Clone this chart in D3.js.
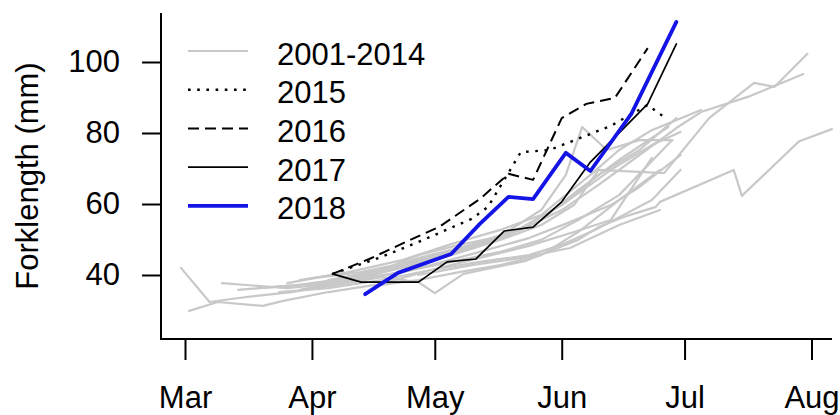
<!DOCTYPE html>
<html>
<head>
<meta charset="utf-8">
<script src="https://cdn.jsdelivr.net/npm/d3@7"></script>
<style>
  html, body { margin: 0; padding: 0; background: #fff; }
  svg { display: block; }
  text { font-family: "Liberation Sans", Arial, sans-serif; fill: #000; }
</style>
</head>
<body>
<svg id="chart" width="840" height="415"></svg>
<script>
// Fork length of juvenile fish by sampling date (month-day), one series per year.
const monthLabels = ["Mar", "Apr", "May", "Jun", "Jul", "Aug"];
const yTicks = [40, 60, 80, 100];
const legendLabels = ["2001-2014", "2015", "2016", "2017", "2018"];

// Earlier years, 2001-2014
const years2001to2014 = [
  [["02-28",42.0],["03-07",32.4],["03-16",33.8],["03-27",35.2],["04-07",37.2],["04-18",39.4],["04-27",38.0],["05-01",34.9],["05-08",40.3],["05-23",43.9],["06-05",49.9],["06-10",53.5],["06-16",56.3],["06-24",59.2],["06-25",60.6],["07-13",69.6],["07-15",62.3],["07-29",77.7],["08-06",81.1]],
  [["03-02",29.9],["03-09",32.4],["03-20",31.3],["03-25",32.7],["04-05",35.2],["04-18",37.5],["04-30",41.4],["05-12",44.8],["05-24",48.2],["06-04",52.1],["06-13",55.5],["06-23",73.0]],
  [["03-10",37.7],["03-26",36.3],["04-05",37.5],["04-18",39.7],["04-30",42.8],["05-12",46.5],["05-24",50.4],["06-03",54.9],["06-13",59.7],["06-20",64.8],["06-30",73.8]],
  [["03-26",37.7],["04-02",39.2],["04-13",40.8],["04-25",43.7],["05-06",47.0],["05-17",51.0],["05-27",58.3],["06-02",68.2],["06-06",81.7],["06-12",75.2],["06-20",78.0],["06-28",78.0]],
  [["03-29",35.8],["04-10",38.6],["04-23",42.0],["05-05",45.6],["05-17",49.9],["05-27",54.1],["06-04",59.7],["06-10",69.6],["06-26",68.7],["07-07",84.2],["07-18",94.1],["07-23",93.0],["07-31",102.3]],
  [["04-03",36.9],["04-15",39.7],["04-27",43.7],["05-10",47.6],["05-22",52.7],["06-01",58.3],["06-10",65.4],["06-20",73.8],["06-29",81.4],["07-05",85.9],["07-17",90.4],["07-30",96.6]],
  [["03-14",35.8],["03-29",37.2],["04-10",39.2],["04-23",42.8],["05-05",46.5],["05-17",50.4],["05-27",55.5],["06-05",63.9],["06-15",72.4],["06-27",81.7]],
  [["03-19",36.3],["04-03",37.7],["04-15",40.0],["04-27",44.8],["05-10",48.5],["05-22",53.2],["06-01",59.7],["06-10",68.2],["06-20",75.2],["06-29",84.2]],
  [["03-29",38.6],["04-10",40.8],["04-23",44.2],["05-05",48.7],["05-17",52.7],["05-27",56.9],["06-08",68.2],["06-15",75.2],["06-23",80.8],["07-05",86.5]],
  [["04-10",38.6],["04-23",40.8],["05-05",43.7],["05-17",46.5],["05-27",49.9],["06-05",55.5],["06-15",62.5],["06-28",78.0]],
  [["03-24",35.2],["04-05",36.3],["04-18",38.6],["04-30",41.4],["05-12",43.7],["05-24",45.6],["06-01",48.5],["06-10",53.2],["06-23",61.1],["06-30",69.6]],
  [["04-18",37.2],["04-27",38.6],["05-07",40.8],["05-17",42.8],["05-27",45.6],["06-05",52.1],["06-15",61.1],["06-25",69.6]],
  [["04-05",38.6],["04-18",41.4],["04-27",45.6],["05-07",48.5],["05-19",51.3],["06-01",59.7],["06-13",69.6],["06-23",76.6],["06-30",80.3]],
  [["04-27",40.0],["05-10",42.8],["05-22",44.8],["06-03",47.6],["06-15",54.1],["06-25",58.3]]
];

const year2015 = [["04-06",40.3],["04-18",45.1],["04-27",49.3],["05-10",55.8],["05-14",59.2],["05-22",74.6],["05-29",75.2],["06-13",82.0],["06-22",87.9],["06-26",84.5]];
const year2016 = [["04-06",40.3],["04-15",44.5],["04-25",49.9],["05-02",53.5],["05-12",61.4],["05-19",68.5],["05-25",66.8],["06-01",84.2],["06-07",88.2],["06-14",89.9],["06-22",103.9]];
const year2017 = [["04-06",40.3],["04-13",38.0],["04-27",38.0],["05-04",43.7],["05-11",44.5],["05-18",52.4],["05-25",53.5],["06-01",60.6],["06-08",71.8],["06-22",88.2],["06-29",105.1]];
const year2018 = [["04-14",34.6],["04-22",40.6],["05-05",45.9],["05-12",54.4],["05-19",62.0],["05-25",61.4],["06-02",74.4],["06-08",69.3],["06-18",85.4],["06-29",111.3]];

const svg = d3.select("#chart");
const parseMD = s => d3.timeParse("%Y-%m-%d")("2018-" + s);

// Plot frame (left and bottom box edges)
const frame = { left: 161, top: 13, bottom: 339, right: 832 };

const x = d3.scaleTime()
  .domain([parseMD("03-01"), parseMD("08-01")])
  .range([185, 811.5]);
const y = d3.scaleLinear()
  .domain([40, 100])
  .range([275, 62]);

const FONT = 31;

// Series styles
const styles = {
  gray:  { stroke: "#c8c8c8", width: 2.2, dash: null },
  y2015: { stroke: "#000", width: 2.4, dash: "2.6,6.6" },
  y2016: { stroke: "#000", width: 2.0, dash: "11,6" },
  y2017: { stroke: "#000", width: 1.7, dash: null },
  y2018: { stroke: "#1414e6", width: 3.8, dash: null }
};

const line = d3.line()
  .x(d => x(parseMD(d[0])))
  .y(d => y(d[1]));

function drawSeries(data, st) {
  const p = svg.append("path")
    .datum(data)
    .attr("d", line)
    .attr("fill", "none")
    .attr("stroke", st.stroke)
    .attr("stroke-width", st.width)
    .attr("stroke-linejoin", "round")
    .attr("stroke-linecap", st.dash ? "butt" : "round");
  if (st.dash) p.attr("stroke-dasharray", st.dash);
}

years2001to2014.forEach(s => drawSeries(s, styles.gray));
drawSeries(year2015, styles.y2015);
drawSeries(year2016, styles.y2016);
drawSeries(year2017, styles.y2017);
drawSeries(year2018, styles.y2018);

// Box edges
svg.append("path")
  .attr("d", `M${frame.left},${frame.top}V${frame.bottom}H${frame.right}`)
  .attr("fill", "none")
  .attr("stroke", "#000")
  .attr("stroke-width", 2);

// Y axis
const yAxis = svg.append("g")
  .attr("transform", `translate(${frame.left},0)`)
  .call(d3.axisLeft(y).tickValues(yTicks).tickSize(19).tickPadding(22).tickSizeOuter(0));
yAxis.select(".domain").remove();
yAxis.selectAll(".tick line").attr("stroke", "#000").attr("stroke-width", 2);
yAxis.selectAll(".tick text")
  .attr("font-size", FONT)
  .attr("font-family", "Liberation Sans, Arial, sans-serif");

// X axis (month starts)
const monthStarts = d3.timeMonth.range(parseMD("03-01"), parseMD("08-02"));
const xAxis = svg.append("g")
  .attr("transform", `translate(0,${frame.bottom})`)
  .call(d3.axisBottom(x).tickValues(monthStarts)
    .tickFormat((d, i) => monthLabels[i])
    .tickSize(21).tickPadding(26).tickSizeOuter(0));
xAxis.select(".domain").remove();
xAxis.selectAll(".tick line").attr("stroke", "#000").attr("stroke-width", 2);
xAxis.selectAll(".tick text")
  .attr("font-size", FONT)
  .attr("font-family", "Liberation Sans, Arial, sans-serif");

// Y axis title
svg.append("text")
  .attr("transform", `translate(38,${(frame.top + frame.bottom) / 2}) rotate(-90)`)
  .attr("text-anchor", "middle")
  .attr("font-size", FONT)
  .text("Forklength (mm)");

// Legend
const legendStyles = [styles.gray, styles.y2015, styles.y2016, styles.y2017, styles.y2018];
const legend = svg.append("g");
legendLabels.forEach((lab, i) => {
  const ly = 51 + i * 38.7;
  const st = legendStyles[i];
  const ln = legend.append("line")
    .attr("x1", 188).attr("x2", 248)
    .attr("y1", ly).attr("y2", ly)
    .attr("stroke", st.stroke)
    .attr("stroke-width", st.width);
  if (st.dash) ln.attr("stroke-dasharray", st.dash);
  legend.append("text")
    .attr("x", 277)
    .attr("y", ly + 13.5)
    .attr("font-size", FONT)
    .text(lab);
});
</script>
</body>
</html>
